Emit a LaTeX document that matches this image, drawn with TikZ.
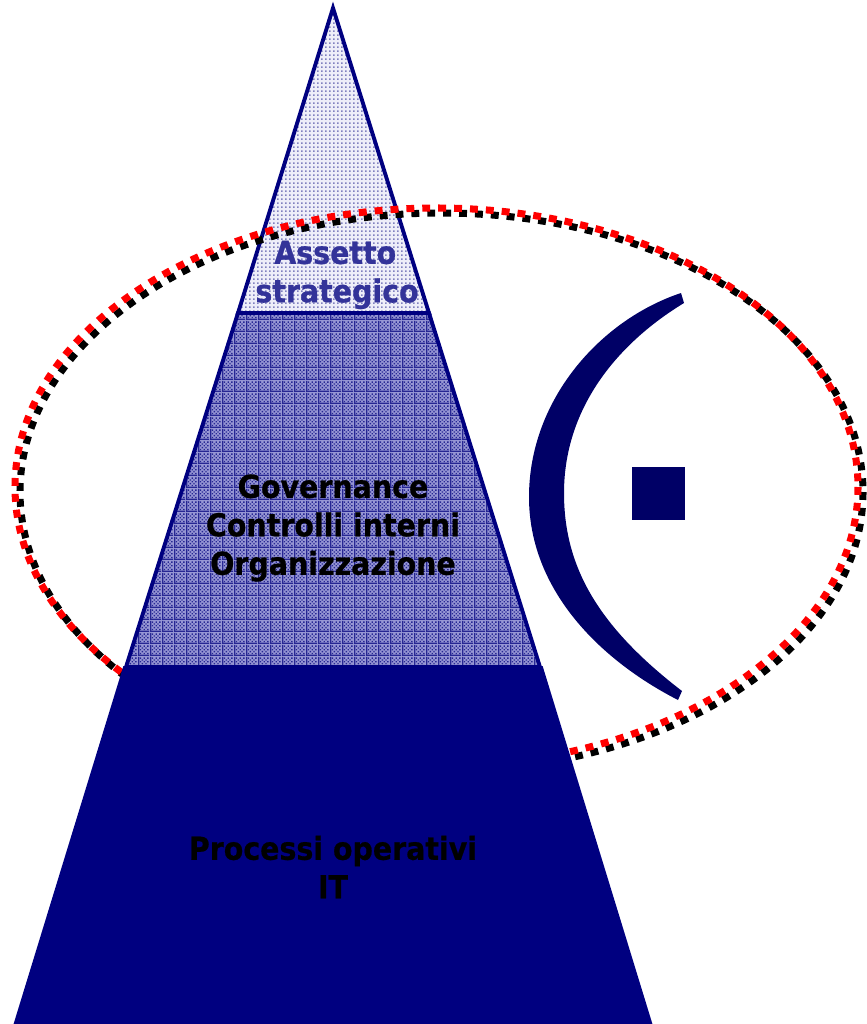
\documentclass[tikz,border=0pt]{standalone}
\usepackage{fontspec}
\setmainfont[BoldFeatures={FakeBold=0.6}]{DejaVu Sans Condensed}
\usetikzlibrary{patterns}
\definecolor{navyA}{HTML}{000080}
\definecolor{navyB}{HTML}{000066}
\definecolor{inkA}{HTML}{333399}
\definecolor{paleA}{HTML}{EEEEF9}
\definecolor{midA}{HTML}{9696D4}
\pgfdeclarepatternformonly{topdots}{\pgfpointorigin}{\pgfpoint{2.18pt}{2.18pt}}{\pgfpoint{2.18pt}{2.18pt}}{%
  \pgfpathrectangle{\pgfpoint{0pt}{0pt}}{\pgfpoint{1.0pt}{1.0pt}}\pgfusepath{fill}}
\pgfdeclarepatternformonly{midgrid}{\pgfpointorigin}{\pgfpoint{6.54pt}{6.54pt}}{\pgfpoint{6.54pt}{6.54pt}}{%
  \pgfpathrectangle{\pgfpoint{0pt}{0pt}}{\pgfpoint{6.54pt}{0.8pt}}\pgfusepath{fill}
  \pgfpathrectangle{\pgfpoint{0pt}{0pt}}{\pgfpoint{0.8pt}{6.54pt}}\pgfusepath{fill}
  \foreach \i in {1,...,5}{\foreach \j in {1,...,5}{%
    \pgfmathparse{int(mod(\i+\j,2))}\ifnum\pgfmathresult=0
      \pgfpathrectangle{\pgfpoint{\i*1.09pt}{\j*1.09pt}}{\pgfpoint{0.8pt}{0.8pt}}\pgfusepath{fill}\fi}}}
\tikzset{
  toppart/.style={fill=paleA},
  toppat/.style={pattern=topdots,pattern color=navyA!50},
  midpart/.style={fill=midA},
  midpat/.style={pattern=midgrid,pattern color=navyA!85},
  edge/.style={draw=navyA,line width=2.2pt,line join=miter},
  ring/.style={line width=4pt,dash pattern=on 4.5pt off 4.55pt},
  label/.style={font=\bfseries\fontsize{18}{21.9}\selectfont,align=center,inner sep=0pt},
  darkshape/.style={fill=navyB,draw=none}
}
\begin{document}
\begin{tikzpicture}[x=0.02cm,y=-0.02cm]
\useasboundingbox (0,0) rectangle (866,1024);
% top section
\path[toppart] (333,8) -- (429,313) -- (238,313) -- cycle;
\path[toppat] (333,8) -- (429,313) -- (238,313) -- cycle;
\draw[edge] (333,8) -- (429,313) -- (238,313) -- cycle;
% dashed ring
\draw[black,ring] (441.5,492) ellipse [x radius=421.5,y radius=279];
\draw[red,ring] (436.5,487) ellipse [x radius=421.5,y radius=279];
% middle section
\path[midpart] (238,313) -- (429,313) -- (540,667) -- (126,667) -- cycle;
\path[midpat] (238,313) -- (429,313) -- (540,667) -- (126,667) -- cycle;
\draw[edge] (238,313) -- (429,313) -- (540,667) -- (126,667) -- cycle;
% bottom section
\fill[navyA,draw=navyA,line width=1pt] (124,667) -- (542,667) -- (651.5,1024) -- (14.5,1024) -- cycle;
% crescent and square
\path[darkshape] (681,293) .. controls (600,320) and (529,400) .. (529,497)
   .. controls (529,590) and (600,660) .. (678,700) -- (682,691)
   .. controls (596,625) and (564,565) .. (564,493)
   .. controls (564,410) and (615,345) .. (684,303) -- cycle;
\path[darkshape] (632,467) rectangle (685,520);
% labels
\node[label,text=inkA] (assetto) at (337,275) {Assetto\kern 2pt\\strategico};
\node[label,text=black] (gov) at (333,528) {Governance\\Controlli interni\\Organizzazione};
\node[label,text=black] (proc) at (333,867) {Processi operativi\\IT};
\end{tikzpicture}
\end{document}
